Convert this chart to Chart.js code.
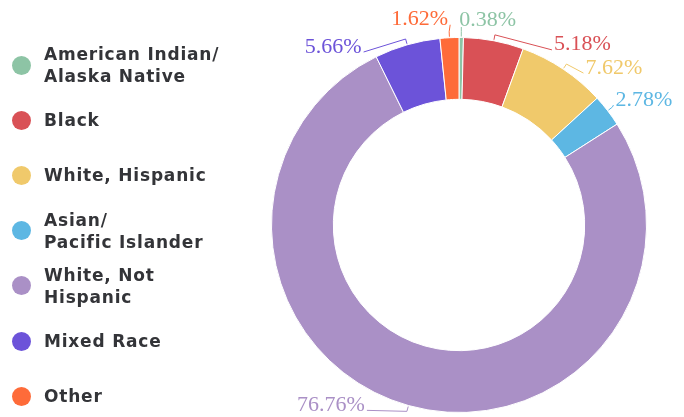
<!DOCTYPE html>
<html><head><meta charset="utf-8">
<script src="https://cdn.jsdelivr.net/npm/chart.js@4/dist/chart.umd.min.js"></script>
<style>
html,body{margin:0;padding:0;background:#fff;width:684px;height:417px;overflow:hidden;}
#wrap{position:relative;width:684px;height:417px;}
#legend{position:absolute;left:0;top:0;width:260px;height:417px;font-family:"DejaVu Sans",sans-serif;font-weight:bold;font-size:17px;letter-spacing:0.8px;color:#333438;z-index:2;}
.item{position:absolute;left:12px;display:flex;align-items:center;transform:translateY(-50%);}
.dot{width:19px;height:19px;border-radius:50%;margin-right:13px;flex:none;}
.txt{line-height:22px;white-space:nowrap;}
canvas{position:absolute;left:0;top:0;}
</style></head><body>
<div id="wrap"><div id="legend"></div><canvas id="c" width="684" height="417"></canvas></div>
<script>
const categories = [["American Indian/","Alaska Native"],["Black"],["White, Hispanic"],["Asian/","Pacific Islander"],["White, Not","Hispanic"],["Mixed Race"],["Other"]];
const shares = [0.38, 5.18, 7.62, 2.78, 76.76, 5.66, 1.62];
const colors = ["#8dc4a5","#d95156","#f0c96b","#5db7e3","#aa90c6","#6c53d9","#fe6b39"];

// label placement (layout only): offset of label inner edge / middle from leader tick end
const labelOffsets = [[-2,-13.5],[59,8],[19,2],[3,-9],[-42,-8],[-44,6],[-1,-14]];

// HTML legend
const legend = document.getElementById('legend');
categories.forEach((lines, i) => {
  const it = document.createElement('div');
  it.className = 'item';
  it.style.top = (65 + i * 55.2) + 'px';
  const d = document.createElement('div');
  d.className = 'dot'; d.style.background = colors[i];
  const t = document.createElement('div');
  t.className = 'txt'; t.innerHTML = lines.join('<br>');
  it.appendChild(d); it.appendChild(t);
  legend.appendChild(it);
});

const labelPlugin = {
  id: 'pctLabels',
  afterDatasetsDraw(chart) {
    const ctx = chart.ctx;
    const meta = chart.getDatasetMeta(0);
    ctx.save();
    ctx.font = '22px "Liberation Serif", serif';
    ctx.textBaseline = 'alphabetic';
    meta.data.forEach((el, i) => {
      const p = el.getProps(['x','y','startAngle','endAngle','outerRadius'], true);
      const mid = (p.startAngle + p.endAngle) / 2;
      const c = Math.cos(mid), s = Math.sin(mid);
      const R = p.outerRadius;
      const t0 = {x: p.x + c * (R + 1), y: p.y + s * (R + 1)};
      const te = {x: p.x + c * (R + 6), y: p.y + s * (R + 6)};
      const right = c >= 0;
      const txt = shares[i].toFixed(2) + '%';
      const w = ctx.measureText(txt).width;
      const edge = te.x + labelOffsets[i][0];
      const left = right ? edge : edge - w;
      const cy = te.y + labelOffsets[i][1];
      let ax, ay;
      if (te.x >= left && te.x <= left + w) { ax = te.x; ay = cy + 9; }
      else { ax = right ? left - 2 : left + w + 2; ay = cy + 7; }
      ctx.strokeStyle = colors[i];
      ctx.lineWidth = 1;
      ctx.beginPath();
      ctx.moveTo(t0.x, t0.y);
      ctx.lineTo(te.x, te.y);
      ctx.lineTo(ax, ay);
      ctx.stroke();
      ctx.fillStyle = colors[i];
      ctx.textAlign = 'left';
      ctx.fillText(txt, left, cy + 7.5);
    });
    ctx.restore();
  }
};

new Chart(document.getElementById('c'), {
  type: 'doughnut',
  data: {
    labels: categories,
    datasets: [{
      data: shares,
      backgroundColor: colors,
      borderColor: '#ffffff',
      borderWidth: 1
    }]
  },
  options: {
    responsive: false,
    animation: false,
    radius: 187.5,
    cutout: 125,
    layout: { padding: { left: 270, right: 36, top: 38, bottom: 5 } },
    plugins: { legend: { display: false }, tooltip: { enabled: false } }
  },
  plugins: [labelPlugin]
});
</script>
</body></html>
